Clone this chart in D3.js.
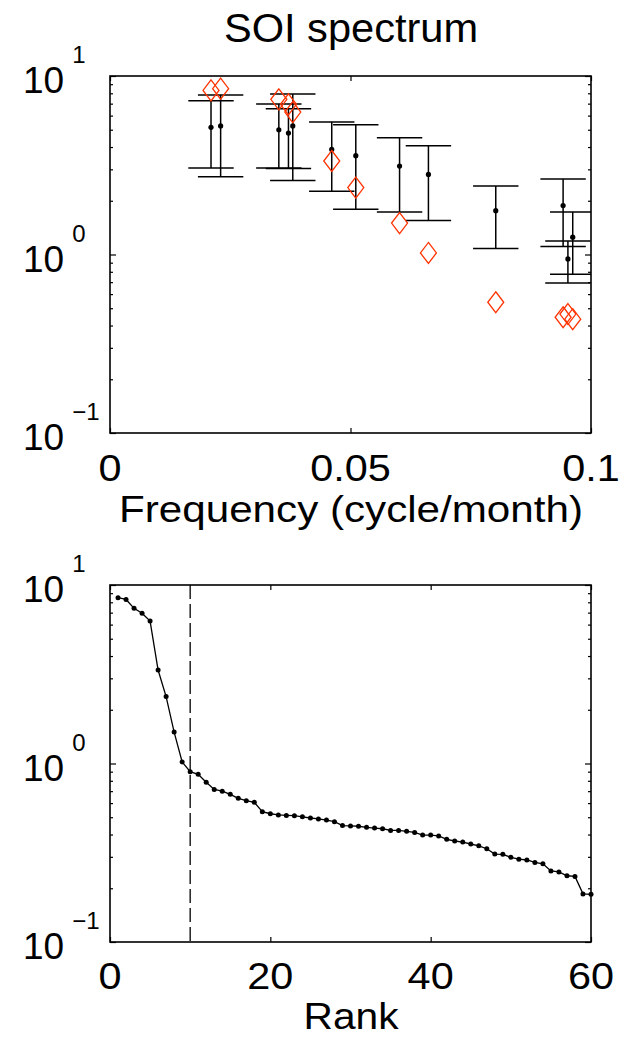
<!DOCTYPE html>
<html>
<head>
<meta charset="utf-8">
<script src="https://cdn.jsdelivr.net/npm/d3@7"></script>
<style>
  body { margin: 0; background: #fff; }
  svg text { font-family: "Liberation Sans", Arial, Helvetica, sans-serif; fill: #000; }
</style>
</head>
<body>
<svg id="svg" width="630" height="1037"></svg>
<script>
// spectrum estimates with confidence limits
var freq = [0.0210, 0.0230, 0.0351, 0.0371, 0.0380, 0.0461, 0.0511, 0.0602, 0.0662, 0.0802, 0.0942, 0.0952, 0.0962];
var specEst = [5.16, 5.25, 5.00, 4.79, 5.25, 3.88, 3.58, 3.13, 2.81, 1.76, 1.88, 0.944, 1.25];
var upperLim = [7.27, 7.83, 6.97, 6.56, 7.93, 5.53, 5.34, 4.51, 4.07, 2.42, 2.65, 1.19, 1.73];
var lowerLim = [3.05, 2.73, 3.05, 3.03, 2.60, 2.26, 1.79, 1.73, 1.55, 1.08, 1.11, 0.692, 0.774];
var periodogram = [8.30, 8.49, 7.40, 6.94, 6.28, 3.34, 2.37, 1.50, 1.02, 0.54, 0.445, 0.464, 0.434];

// sorted periodogram values, rank 1..60
var rankVals = [8.49, 8.30, 7.40, 6.94, 6.28, 3.34, 2.37, 1.50, 1.02, 0.90,
  0.87, 0.785, 0.716, 0.70, 0.672, 0.638, 0.619, 0.606, 0.537, 0.523,
  0.515, 0.512, 0.510, 0.503, 0.495, 0.489, 0.482, 0.472, 0.449, 0.447,
  0.445, 0.439, 0.435, 0.431, 0.422, 0.422, 0.417, 0.411, 0.397, 0.397,
  0.393, 0.376, 0.368, 0.363, 0.354, 0.346, 0.333, 0.311, 0.310, 0.298,
  0.291, 0.288, 0.279, 0.274, 0.250, 0.247, 0.235, 0.233, 0.186, 0.185];
var rankCut = 10;

var freqTicks = [0, 0.05, 0.1];
var freqTickLabels = ["0", "0.05", "0.1"];
var rankTicks = [0, 20, 40, 60];
var logTicks = [0.1, 1, 10];
var logTickExp = ["\u22121", "0", "1"];

var svg = d3.select("#svg");
var left = 110, right = 591;
var labelSize = 37, supSize = 24;
var stretch = 1.12; // the original's text runs a bit wider than Liberation

function label(g, x, y, txt, size, sx) {
  return g.append("text")
    .attr("transform", "translate(" + x + "," + y + ") scale(" + sx + ",1)")
    .attr("text-anchor", "middle")
    .style("font-size", size + "px")
    .text(txt);
}

function logAxes(g, y) {
  var minor = [];
  [0.1, 1].forEach(function(d) {
    for (var k = 2; k <= 9; k++) minor.push(d * k);
  });
  g.append("g").attr("transform", "translate(" + left + ",0)")
    .call(d3.axisLeft(y).tickValues(minor).tickSize(-3).tickFormat(""));
  g.append("g").attr("transform", "translate(" + left + ",0)")
    .call(d3.axisLeft(y).tickValues(logTicks).tickSize(-6).tickFormat(""));
  g.append("g").attr("transform", "translate(" + right + ",0)")
    .call(d3.axisRight(y).tickValues(minor).tickSize(-3).tickFormat(""));
  g.append("g").attr("transform", "translate(" + right + ",0)")
    .call(d3.axisRight(y).tickValues(logTicks).tickSize(-6).tickFormat(""));

  // 10^n labels
  logTicks.forEach(function(v, i) {
    var t = g.append("text")
      .attr("x", 23)
      .attr("y", y(v) + 17)
      .style("font-size", labelSize + "px");
    t.append("tspan").text("10");
    t.append("tspan")
      .attr("dx", 8)
      .attr("dy", -30)
      .style("font-size", supSize + "px")
      .text(logTickExp[i]);
  });
}

function frame(g, top, bottom) {
  g.append("rect")
    .attr("x", left).attr("y", top)
    .attr("width", right - left).attr("height", bottom - top)
    .attr("fill", "none").attr("stroke", "#000").attr("stroke-width", 1.6);
}

function cleanAxis(g) {
  g.selectAll(".domain").remove();
  g.selectAll(".tick line").attr("stroke", "#000").attr("stroke-width", 1.2);
}

// ---------- top panel ----------
var top1 = 76, bot1 = 433;
var x1 = d3.scaleLinear().domain([0, 0.1]).range([left, right]);
var y1 = d3.scaleLog().domain([0.1, 10]).range([bot1, top1]);
var g1 = svg.append("g");

g1.append("clipPath").attr("id", "clip1")
  .append("rect").attr("x", left).attr("y", top1)
  .attr("width", right - left).attr("height", bot1 - top1);

g1.append("g").attr("transform", "translate(0," + bot1 + ")")
  .call(d3.axisBottom(x1).tickValues(freqTicks).tickSize(-5).tickFormat(""));
g1.append("g").attr("transform", "translate(0," + top1 + ")")
  .call(d3.axisTop(x1).tickValues(freqTicks).tickSize(-5).tickFormat(""));
logAxes(g1, y1);
cleanAxis(g1);

var bars = g1.append("g").attr("clip-path", "url(#clip1)");
var capW = 22.7;
freq.forEach(function(f, i) {
  var cx = x1(f);
  var b = bars.append("g").attr("stroke", "#000").attr("stroke-width", 1.5);
  b.append("line").attr("x1", cx).attr("x2", cx)
    .attr("y1", y1(upperLim[i])).attr("y2", y1(lowerLim[i]));
  b.append("line").attr("x1", cx - capW).attr("x2", cx + capW)
    .attr("y1", y1(upperLim[i])).attr("y2", y1(upperLim[i]));
  b.append("line").attr("x1", cx - capW).attr("x2", cx + capW)
    .attr("y1", y1(lowerLim[i])).attr("y2", y1(lowerLim[i]));
  bars.append("circle").attr("cx", cx).attr("cy", y1(specEst[i]))
    .attr("r", 2.6).attr("fill", "#000");
});

bars.selectAll("path.diamond")
  .data(freq)
  .enter().append("path")
  .attr("class", "diamond")
  .attr("d", function(f, i) {
    var cx = x1(f), cy = y1(periodogram[i]);
    return "M" + cx + "," + (cy - 10.5) + "L" + (cx + 8) + "," + cy +
      "L" + cx + "," + (cy + 10.5) + "L" + (cx - 8) + "," + cy + "Z";
  })
  .attr("fill", "none")
  .attr("stroke", "#ff3300")
  .attr("stroke-width", 1.3);

frame(g1, top1, bot1);

freqTicks.forEach(function(v, i) {
  label(g1, x1(v), bot1 + 48, freqTickLabels[i], labelSize, stretch);
});
label(g1, 351, bot1 + 89, "Frequency (cycle/month)", labelSize, 1.14);
label(g1, 351, 42, "SOI spectrum", 40, 1.04);

// ---------- bottom panel ----------
var top2 = 585, bot2 = 942;
var x2 = d3.scaleLinear().domain([0, 60]).range([left, right]);
var y2 = d3.scaleLog().domain([0.1, 10]).range([bot2, top2]);
var g2 = svg.append("g");

g2.append("g").attr("transform", "translate(0," + bot2 + ")")
  .call(d3.axisBottom(x2).tickValues(rankTicks).tickSize(-5).tickFormat(""));
g2.append("g").attr("transform", "translate(0," + top2 + ")")
  .call(d3.axisTop(x2).tickValues(rankTicks).tickSize(-5).tickFormat(""));
logAxes(g2, y2);
cleanAxis(g2);

g2.append("line")
  .attr("x1", x2(rankCut)).attr("x2", x2(rankCut))
  .attr("y1", top2).attr("y2", bot2)
  .attr("stroke", "#000").attr("stroke-width", 1.3)
  .attr("stroke-dasharray", "14,5");

var line = d3.line()
  .x(function(d, i) { return x2(i + 1); })
  .y(function(d) { return y2(d); });
g2.append("path").datum(rankVals)
  .attr("d", line)
  .attr("fill", "none").attr("stroke", "#000").attr("stroke-width", 1.3);
g2.selectAll("circle.rk").data(rankVals)
  .enter().append("circle")
  .attr("class", "rk")
  .attr("cx", function(d, i) { return x2(i + 1); })
  .attr("cy", function(d) { return y2(d); })
  .attr("r", 2.5).attr("fill", "#000");

frame(g2, top2, bot2);

rankTicks.forEach(function(v) {
  label(g2, x2(v), bot2 + 47, String(v), labelSize, stretch);
});
label(g2, 351, bot2 + 87, "Rank", labelSize, 1.1);
</script>
</body>
</html>
